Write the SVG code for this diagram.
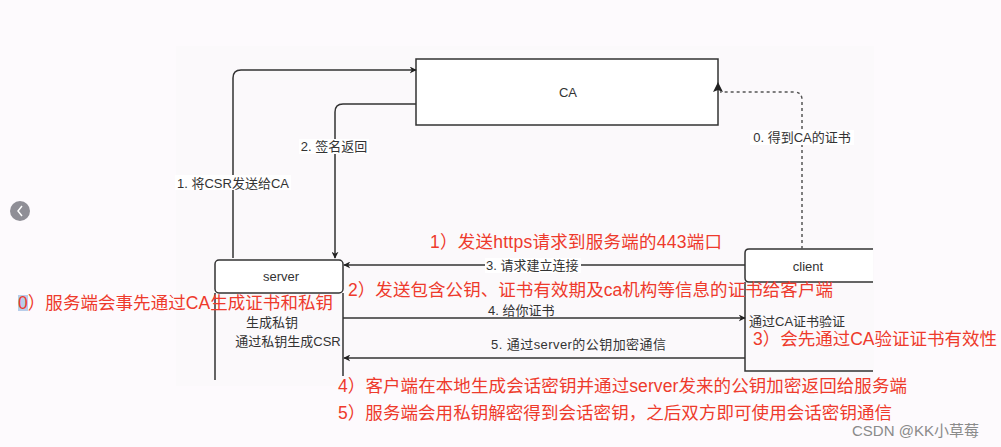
<svg xmlns="http://www.w3.org/2000/svg" width="1001" height="447" viewBox="0 0 1001 447">
<style>
.bx{fill:#ffffff;stroke:#333;stroke-width:1.5}
.ln{fill:none;stroke:#333;stroke-width:1.5}
.dl{fill:none;stroke:#555;stroke-width:1.5;stroke-dasharray:3 3}
.t{font-family:"Liberation Sans","Noto Sans CJK SC",sans-serif;font-size:13px;fill:#333}
.r{font-family:"Liberation Sans","Noto Sans CJK SC",sans-serif;font-size:17.5px;fill:#ee3a2c}
.lb{fill:#ffffff}
</style>
<defs>
<marker id="ah" viewBox="0 0 10 10" refX="9" refY="5" markerWidth="7" markerHeight="7" orient="auto" markerUnits="userSpaceOnUse">
<path d="M0,0 L10,5 L0,10 L3,5 Z" fill="#222"/>
</marker>
</defs>
<rect width="1001" height="447" fill="#fdfafd"/>
<rect x="176" y="46" width="698" height="340" fill="#fbf9fb"/>

<g id="ca">
<rect class="bx" x="416" y="59" width="302" height="66"/>
<text class="t" x="568" y="97" text-anchor="middle" font-size="14">CA</text>
</g>

<g id="server">
<path class="ln" d="M215,293 V380 M343,293 V376"/>
<rect class="bx" x="215" y="260" width="128" height="33" rx="4"/>
<text class="t" x="281" y="281" text-anchor="middle">server</text>
<text class="t" x="272" y="327" text-anchor="middle">生成私钥</text>
<text class="t" x="288" y="346" text-anchor="middle">通过私钥生成CSR</text>
</g>

<g id="client">
<path class="ln" d="M745,282 V371 H873"/>
<path class="bx" d="M873,282 H749 Q745,282 745,278 V253 Q745,249 749,249 H873"/>
<text class="t" x="808" y="271" text-anchor="middle">client</text>
<text class="t" x="749" y="326">通过CA证书验证</text>
</g>

<g id="connectors">
<path class="ln" d="M233,258 V78 Q233,70 241,70 H416" marker-end="url(#ah)"/>
<path class="ln" d="M416,104 H343 Q335,104 335,112 V258" marker-end="url(#ah)"/>
<path class="dl" d="M802,249 V100 Q802,92 794,92 H720"/>
<path d="M713,92 L718,82 L723,92 L718,90 Z" fill="#222"/>
<path class="ln" d="M745,265 H344" marker-end="url(#ah)"/>
<path class="ln" d="M343,318 H745" marker-end="url(#ah)"/>
<path class="ln" d="M745,358 H344" marker-end="url(#ah)"/>
</g>

<g id="labels">
<rect class="lb" x="175" y="175" width="116" height="15"/>
<text class="t" x="233" y="188" text-anchor="middle">1. 将CSR发送给CA</text>
<rect class="lb" x="299" y="139" width="70" height="15"/>
<text class="t" x="334" y="151" text-anchor="middle">2. 签名返回</text>
<rect class="lb" x="750" y="130" width="104" height="15"/>
<text class="t" x="802" y="142" text-anchor="middle">0. 得到CA的证书</text>
<rect class="lb" x="485" y="258" width="96" height="15"/>
<text class="t" x="486" y="270">3. 请求建立连接</text>
<text class="t" x="488" y="315">4. 给你证书</text>
<text class="t" x="491" y="349" textLength="175">5.  通过server的公钥加密通信</text>
</g>

<g id="notes">
<text class="r" x="430" y="248" textLength="292">1）发送https请求到服务端的443端口</text>
<text class="r" x="348" y="296" textLength="485">2）发送包含公钥、证书有效期及ca机构等信息的证书给客户端</text>
<rect x="18" y="295" width="10" height="16" fill="#b8cdea"/>
<text class="r" x="18" y="309" textLength="315">0）服务端会事先通过CA生成证书和私钥</text>
<text class="r" x="753" y="345" textLength="244">3）会先通过CA验证证书有效性</text>
<text class="r" x="338" y="392" textLength="569">4）客户端在本地生成会话密钥并通过server发来的公钥加密返回给服务端</text>
<text class="r" x="338" y="419" textLength="554">5）服务端会用私钥解密得到会话密钥，之后双方即可使用会话密钥通信</text>
<text x="852" y="436" font-family="Liberation Sans,Noto Sans CJK SC,sans-serif" font-size="15" fill="#8a8a8a">CSDN @KK小草莓</text>
</g>

<g id="navbutton">
<circle cx="20" cy="211" r="10" fill="#8f8e96"/>
<path d="M22,206 L18,211 L22,216" fill="none" stroke="#fff" stroke-width="1.5"/>
</g>
</svg>
